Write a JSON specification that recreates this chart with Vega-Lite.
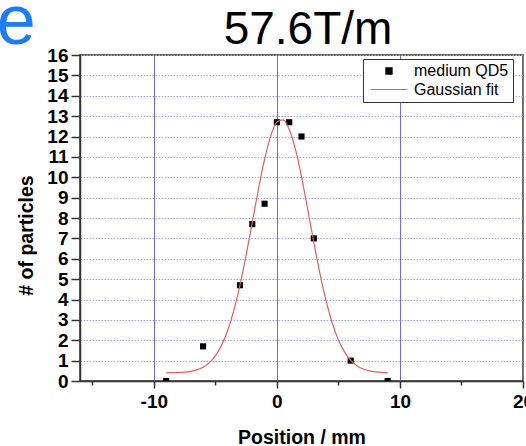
{
  "$schema": "https://vega.github.io/schema/vega-lite/v6.json",
  "width": 443,
  "height": 326,
  "autosize": {"type": "none"},
  "padding": {"left": 80, "top": 55, "right": 3, "bottom": 65},
  "background": "#ffffff",
  "config": {
    "font": "Liberation Sans",
    "view": {"stroke": "#333333", "strokeWidth": 1.5},
    "axis": {"domainColor": "#333333", "domainWidth": 1.5, "tickColor": "#333333", "tickWidth": 1.5, "labelFont": "Liberation Sans", "labelFontSize": 19, "labelFontWeight": "bold", "labelColor": "#000000", "titleFont": "Liberation Sans", "titleFontSize": 19.5, "titleFontWeight": "bold", "titleColor": "#000000"}
  },
  "layer": [
    {
      "data": {"values": [
        {"x": -9, "y": 0, "series": "medium QD5"},
        {"x": -6, "y": 1.7, "series": "medium QD5"},
        {"x": -3, "y": 4.7, "series": "medium QD5"},
        {"x": -2, "y": 7.7, "series": "medium QD5"},
        {"x": -1, "y": 8.7, "series": "medium QD5"},
        {"x": 0, "y": 12.7, "series": "medium QD5"},
        {"x": 1, "y": 12.7, "series": "medium QD5"},
        {"x": 2, "y": 12.0, "series": "medium QD5"},
        {"x": 3, "y": 7.0, "series": "medium QD5"},
        {"x": 6, "y": 1.0, "series": "medium QD5"},
        {"x": 9, "y": 0, "series": "medium QD5"}
      ]},
      "mark": {"type": "point", "filled": true, "opacity": 1, "size": 150, "clip": true},
      "encoding": {
        "x": {"field": "x", "type": "quantitative", "scale": {"domain": [-16, 20], "nice": false, "zero": false},
          "axis": {"values": [-15, -10, -5, 0, 5, 10, 15, 20], "tickCount": 20, "title": "Position / mm",
            "labelExpr": "datum.value % 10 === 0 ? toString(datum.value) : ''",
            "tickSize": {"condition": {"test": "datum.value % 10 === 0", "value": 7}, "value": 4},
            "grid": true, "gridColor": "#6b6be0", "gridWidth": 1,
            "gridOpacity": {"condition": {"test": "datum.value % 10 === 0", "value": 1}, "value": 0},
            "labelPadding": 4, "labelFlush": false, "labelOverlap": false, "labelBound": false,
            "titleY": 62, "titleBaseline": "alphabetic"}},
        "y": {"field": "y", "type": "quantitative", "scale": {"domain": [0, 16], "nice": false},
          "axis": {"values": [0, 1, 2, 3, 4, 5, 6, 7, 8, 9, 10, 11, 12, 13, 14, 15, 16], "tickCount": 20, "title": "# of particles",
            "tickSize": 9, "labelPadding": 3, "grid": true, "gridColor": "#a4a4ec", "gridDash": [1.5, 1.5], "gridWidth": 1,
            "labelOverlap": false, "titleX": -48, "titleY": 180, "titleBaseline": "alphabetic", "titleAngle": -90}},
        "color": {"field": "series", "type": "nominal",
          "scale": {"domain": ["medium QD5", "Gaussian fit"], "range": ["#000000", "#e06060"]},
          "legend": {"orient": "none", "legendX": 283, "legendY": 4, "title": null, "strokeColor": "#333333", "fillColor": "#ffffff",
            "padding": 4, "labelFont": "Liberation Sans", "labelFontSize": 16, "labelColor": "#000000", "labelOffset": 17,
            "labelExpr": "datum.label + '\u00a0\u00a0'",
            "symbolSize": 150, "symbolOffset": 14, "rowPadding": 2.5, "symbolStrokeWidth": 1.2,
            "encode": {"symbols": {"update": {"stroke": {"scale": "color", "field": "value"}, "fill": {"scale": "color", "field": "value"}}}}}},
        "shape": {"field": "series", "type": "nominal",
          "scale": {"domain": ["medium QD5", "Gaussian fit"], "range": ["M-0.5,-0.5H0.5V0.5H-0.5Z", "M-3,0H3"]}}
      }
    },
    {
      "data": {"values": [
        {"x": -9, "y": 0.403, "series": "Gaussian fit"},
        {"x": -8.5, "y": 0.408, "series": "Gaussian fit"},
        {"x": -8, "y": 0.417, "series": "Gaussian fit"},
        {"x": -7.5, "y": 0.437, "series": "Gaussian fit"},
        {"x": -7, "y": 0.476, "series": "Gaussian fit"},
        {"x": -6.5, "y": 0.548, "series": "Gaussian fit"},
        {"x": -6, "y": 0.676, "series": "Gaussian fit"},
        {"x": -5.5, "y": 0.89, "series": "Gaussian fit"},
        {"x": -5, "y": 1.233, "series": "Gaussian fit"},
        {"x": -4.5, "y": 1.748, "series": "Gaussian fit"},
        {"x": -4, "y": 2.481, "series": "Gaussian fit"},
        {"x": -3.5, "y": 3.468, "series": "Gaussian fit"},
        {"x": -3, "y": 4.71, "series": "Gaussian fit"},
        {"x": -2.5, "y": 6.178, "series": "Gaussian fit"},
        {"x": -2, "y": 7.788, "series": "Gaussian fit"},
        {"x": -1.5, "y": 9.409, "series": "Gaussian fit"},
        {"x": -1, "y": 10.88, "series": "Gaussian fit"},
        {"x": -0.5, "y": 12.03, "series": "Gaussian fit"},
        {"x": 0, "y": 12.71, "series": "Gaussian fit"},
        {"x": 0.5, "y": 12.82, "series": "Gaussian fit"},
        {"x": 1, "y": 12.36, "series": "Gaussian fit"},
        {"x": 1.5, "y": 11.39, "series": "Gaussian fit"},
        {"x": 2, "y": 10.03, "series": "Gaussian fit"},
        {"x": 2.5, "y": 8.44, "series": "Gaussian fit"},
        {"x": 3, "y": 6.81, "series": "Gaussian fit"},
        {"x": 3.5, "y": 5.27, "series": "Gaussian fit"},
        {"x": 4, "y": 3.93, "series": "Gaussian fit"},
        {"x": 4.5, "y": 2.845, "series": "Gaussian fit"},
        {"x": 5, "y": 2.012, "series": "Gaussian fit"},
        {"x": 5.5, "y": 1.415, "series": "Gaussian fit"},
        {"x": 6, "y": 1.009, "series": "Gaussian fit"},
        {"x": 6.5, "y": 0.749, "series": "Gaussian fit"},
        {"x": 7, "y": 0.59, "series": "Gaussian fit"},
        {"x": 7.5, "y": 0.499, "series": "Gaussian fit"},
        {"x": 8, "y": 0.449, "series": "Gaussian fit"},
        {"x": 8.5, "y": 0.423, "series": "Gaussian fit"},
        {"x": 9, "y": 0.411, "series": "Gaussian fit"}
      ]},
      "mark": {"type": "line", "strokeWidth": 1.2, "interpolate": "monotone"},
      "encoding": {
        "x": {"field": "x", "type": "quantitative"},
        "y": {"field": "y", "type": "quantitative"},
        "color": {"field": "series", "type": "nominal"}
      }
    },
    {
      "data": {"values": [{"label": "re"}]},
      "mark": {"type": "text", "fontSize": 70, "font": "Liberation Sans", "align": "right", "baseline": "alphabetic", "color": "#1c7cf4", "clip": false},
      "encoding": {
        "x": {"datum": -19.6, "type": "quantitative"},
        "y": {"datum": 16.52, "type": "quantitative"},
        "text": {"field": "label"}
      }
    },
    {
      "data": {"values": [{"label": "57.6T/m"}]},
      "mark": {"type": "text", "fontSize": 46, "font": "Liberation Sans", "align": "center", "baseline": "alphabetic", "color": "#000000", "clip": false},
      "encoding": {
        "x": {"datum": 2.53, "type": "quantitative"},
        "y": {"datum": 16.54, "type": "quantitative"},
        "text": {"field": "label"}
      }
    }
  ]
}
